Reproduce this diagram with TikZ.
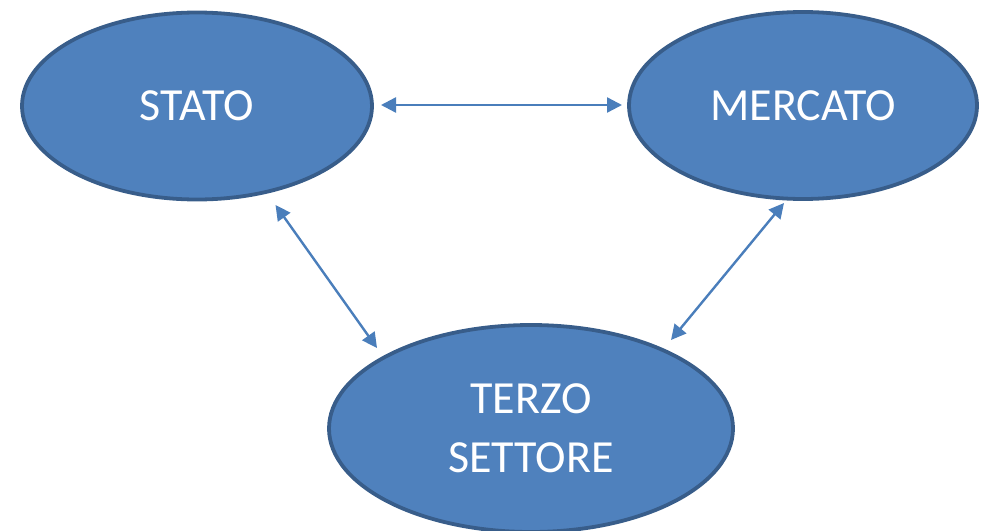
\documentclass[tikz,border=0pt]{standalone}
\usepackage{fontspec}
\setmainfont{Carlito}
\usetikzlibrary{shapes.geometric,arrows.meta}
\definecolor{nodefill}{HTML}{4F81BD}
\definecolor{nodeedge}{HTML}{385D8A}
\definecolor{arrowcol}{HTML}{4A7EBB}
\tikzset{
  blob/.style={ellipse, draw=nodeedge, fill=nodefill, line width=3.8pt, inner sep=0pt,
    text=white, align=center, font=\fontsize{46}{59}\selectfont},
  link/.style={draw=arrowcol, line width=2.4pt,
    {Triangle[length=15pt,width=15pt]}-{Triangle[length=15pt,width=15pt]}}
}
\begin{document}
\begin{tikzpicture}[x=1pt,y=-1pt]
\useasboundingbox (0,0) rectangle (985,530);
\node[blob, minimum width=350pt, minimum height=187pt] (stato) at (197,106) {STATO};
\node[blob, minimum width=348pt, minimum height=187pt] (mercato) at (803,105.5) {MERCATO};
\node[blob, minimum width=404pt, minimum height=207pt] (terzo) at (531,428.5) {TERZO\\SETTORE};
\coordinate (sm1) at (381,105);
\coordinate (sm2) at (622,105);
\coordinate (st1) at (275.5,205);
\coordinate (st2) at (377,348);
\coordinate (mt1) at (784,203);
\coordinate (mt2) at (671,340);
\draw[link] (sm1) -- (sm2);
\draw[link] (st1) -- (st2);
\draw[link] (mt1) -- (mt2);
\end{tikzpicture}
\end{document}
